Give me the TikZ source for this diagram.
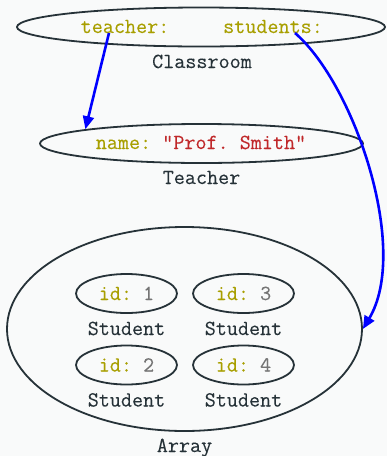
\documentclass[tikz,border=0pt]{standalone}
\usepackage{fontspec}
\setmonofont{Latin Modern Mono}[FakeBold=0.2]
\usetikzlibrary{arrows.meta,shapes.geometric}
\definecolor{bgcol}{HTML}{F9FAFA}
\definecolor{inkcol}{HTML}{263238}
\definecolor{keycol}{HTML}{A89F00}
\definecolor{strcol}{HTML}{C0282A}
\definecolor{numcol}{HTML}{757575}
\tikzset{
	obj/.style={draw=inkcol, line width=1.8pt, ellipse, inner sep=0pt},
	txt/.style={anchor=base, inner sep=0pt, font=\ttfamily\fontsize{21.5}{25}\selectfont},
	lbl/.style={txt, text=inkcol},
	ref/.style={draw=blue, line width=2.6pt, -{Triangle[length=13pt,width=11pt]}},
}

\begin{document}
\begin{tikzpicture}[x=1pt,y=-1pt]
			%%%%% START %%%%%
			
			\fill[bgcol] (0,0) rectangle (387,456);
			\useasboundingbox (0,0) rectangle (387,456);
			
			% classroom object
			\node[obj, minimum width=368pt, minimum height=39pt] (room) at (201,27) {};
			\node[txt, text=keycol] (tfield) at (125,33) {teacher:};
			\node[txt, text=keycol] (sfield) at (273,33) {students:};
			\node[lbl] (roomlbl) at (202,68) {Classroom};
			
			% teacher object
			\node[obj, minimum width=323pt, minimum height=39pt] (tch) at (201.5,143.5) {};
			\node[txt] (tchname) at (201,149) {\textcolor{keycol}{name:} \textcolor{strcol}{"Prof. Smith"}};
			\node[lbl] (tchlbl) at (201.5,184) {Teacher};
			
			% array of students
			\node[obj, minimum width=355pt, minimum height=204pt] (arr) at (184.5,329) {};
			\node[lbl] (arrlbl) at (184.5,452) {Array};
			
			\foreach \i/\x/\y in {1/126.5/293.5, 2/126.5/365, 3/243.5/293.5, 4/243.5/365} {
				\node[obj, minimum width=101pt, minimum height=39pt] (stu\i) at (\x,\y) {};
				\node[txt] (sid\i) at (\x,\y+6.5) {\textcolor{keycol}{id:} \textcolor{numcol}{\i}};
				\node[lbl] (stulbl\i) at (\x,\y+41.5) {Student};
			}
			
			% references
			\draw[ref] ([xshift=-16pt]tfield.base) -- (tch.173);
			\draw[ref] ([xshift=22pt]sfield.base) .. controls (355,85) and (410,250) .. (arr.east);
			
			%%%%% END %%%%%
\end{tikzpicture}
\end{document}
